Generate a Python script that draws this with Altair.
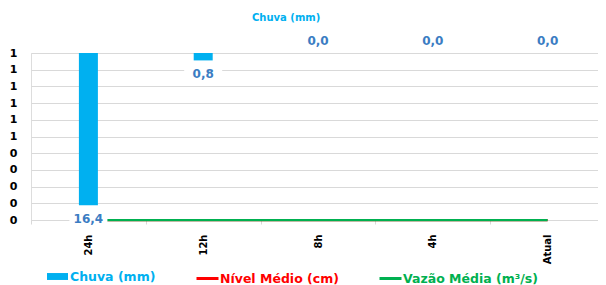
import altair as alt
import pandas as pd

categorias = ["24h", "12h", "8h", "4h", "Atual"]
chuva = [16.4, 0.8, 0.0, 0.0, 0.0]
nivel = [0.0, 0.0, 0.0, 0.0, 0.0]
vazao = [0.0, 0.0, 0.0, 0.0, 0.0]
y_ticks = [0.0, 0.1, 0.2, 0.3, 0.4, 0.5, 0.6, 0.7, 0.8, 0.9, 1.0]

df = pd.DataFrame({"periodo": categorias, "chuva": chuva, "nivel": nivel, "vazao": vazao})

FONT = "DejaVu Sans"
BLUE = "#00B0F0"
RED = "#FF0000"
GREEN = "#00B050"
LBL = "#3B7DC3"
GRID = "#D9D9D9"

x_enc = alt.X(
    "periodo:N",
    sort=categorias,
    scale=alt.Scale(paddingInner=0, paddingOuter=0),
    axis=alt.Axis(
        title=None, labelAngle=-90, labelFont=FONT, labelFontSize=10,
        labelFontWeight="bold", labelColor="#000000", tickBand="extent",
        tickSize=4, tickColor=GRID, domainColor=GRID, labelPadding=10, grid=False,
    ),
)

rain_scale = alt.Scale(domain=[0, 18], reverse=True)
base = alt.Chart(df)

bars = base.transform_calculate(serie="'Chuva (mm)'").mark_bar(size=19).encode(
    x=x_enc,
    y=alt.Y("chuva:Q", scale=rain_scale, axis=None),
    fill=alt.Fill(
        "serie:N", scale=alt.Scale(range=[BLUE]),
        legend=alt.Legend(
            orient="none", legendX=16, legendY=213, title=None,
            symbolType="M-1,-0.33H1V0.33H-1Z", symbolSize=441, symbolStrokeWidth=0,
            labelColor=BLUE, labelFont=FONT, labelFontSize=12.5, labelFontWeight="bold",
            labelOffset=2, padding=0,
        ),
    ),
)

red_line = base.transform_calculate(serie="'Nível Médio (cm)'").mark_line(strokeWidth=2.25).encode(
    x=x_enc,
    y=alt.Y(
        "nivel:Q", scale=alt.Scale(domain=[0, 1]),
        axis=alt.Axis(
            orient="left", values=y_ticks, format=".0f", title=None, domain=False,
            ticks=False, labelPadding=14, labelFont=FONT, labelFontSize=11,
            labelFontWeight="bold", labelColor="#000000", grid=True, gridColor=GRID,
        ),
    ),
    stroke=alt.Stroke(
        "serie:N", scale=alt.Scale(range=[RED]),
        legend=alt.Legend(
            orient="none", legendX=164, legendY=213, title=None,
            symbolType="stroke", symbolSize=484, symbolStrokeWidth=3,
            labelColor=RED, labelFont=FONT, labelFontSize=12.5, labelFontWeight="bold",
            labelOffset=0, padding=0,
        ),
    ),
)

green_line = base.transform_calculate(serie="'Vazão Média (m³/s)'").mark_line(strokeWidth=2.25).encode(
    x=x_enc,
    y=alt.Y("vazao:Q", scale=alt.Scale(domain=[0, 1]), axis=None),
    color=alt.Color(
        "serie:N", scale=alt.Scale(range=[GREEN]),
        legend=alt.Legend(
            orient="none", legendX=347, legendY=213, title=None,
            symbolType="stroke", symbolSize=484, symbolStrokeWidth=3,
            labelColor=GREEN, labelFont=FONT, labelFontSize=12.5, labelFontWeight="bold",
            labelOffset=0, padding=0,
        ),
    ),
)

labeled = base.transform_calculate(
    rotulo="replace(format(datum.chuva, '.1f'), '.', ',')"
)

label_bg = labeled.transform_filter("datum.chuva > 0").mark_point(
    shape="M-1,-0.4H1V0.4H-1Z", size=1444, filled=True, color="white", opacity=1, yOffset=14,
).encode(
    x=x_enc,
    y=alt.Y("chuva:Q", scale=rain_scale, axis=None),
)

text_pos = labeled.transform_filter("datum.chuva > 0").mark_text(
    font=FONT, fontSize=12, fontWeight="bold", color=LBL, baseline="middle", dy=14,
).encode(
    x=x_enc,
    y=alt.Y("chuva:Q", scale=rain_scale, axis=None),
    text="rotulo:N",
)

text_zero = labeled.transform_filter("datum.chuva <= 0").mark_text(
    font=FONT, fontSize=12, fontWeight="bold", color=LBL, baseline="middle", dy=-12,
).encode(
    x=x_enc,
    y=alt.Y("chuva:Q", scale=rain_scale, axis=None),
    text="rotulo:N",
)

chart = alt.layer(
    bars, red_line, green_line, label_bg, text_pos, text_zero
).resolve_scale(
    y="independent"
).properties(
    width=574,
    height=167,
    title=alt.Title(
        "Chuva (mm)", anchor="start", frame="group", dx=221, offset=12,
        font=FONT, fontSize=10, fontWeight="bold", color=BLUE,
    ),
    autosize=alt.AutoSizeParams(type="none"),
    padding={"left": 23, "top": 45, "right": -7, "bottom": 65},
).configure_view(
    stroke=None
).configure(
    background="white"
)

chart.save("out.html", embed_options={"renderer": "svg", "actions": False})
